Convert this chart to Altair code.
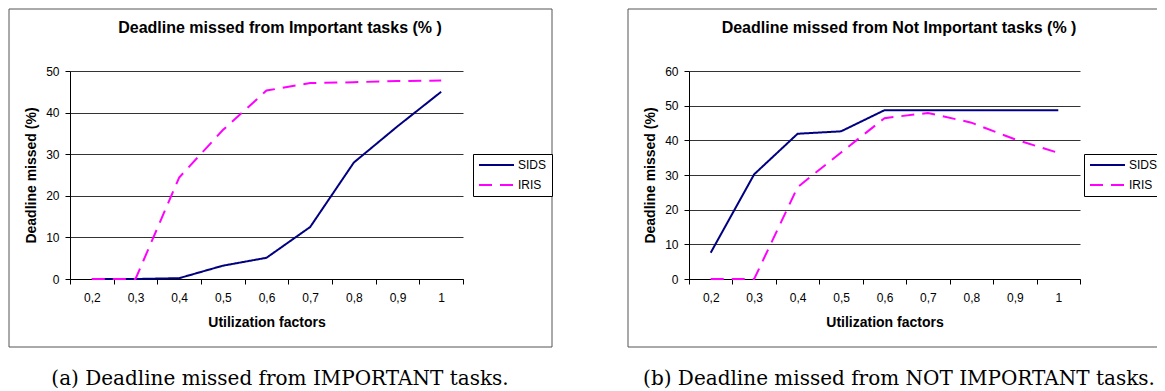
import altair as alt
import pandas as pd

# ---- data ----
factors = ["0,2", "0,3", "0,4", "0,5", "0,6", "0,7", "0,8", "0,9", "1"]
series_names = ["SIDS", "IRIS"]
imp_sids = [0, 0, 0.2, 3.2, 5.1, 12.5, 28.0, 36.7, 45.0]
imp_iris = [0, 0, 24.4, 35.8, 45.3, 47.1, 47.3, 47.6, 47.7]
notimp_sids = [7.6, 30.2, 41.9, 42.6, 48.7, 48.7, 48.7, 48.7, 48.7]
notimp_iris = [0, 0, 26.5, 36.5, 46.4, 47.9, 45.1, 40.3, 36.4]
chart_titles = ["Deadline missed from Important tasks (% )",
                "Deadline missed from Not Important tasks (% )"]
captions = ["(a) Deadline missed from IMPORTANT tasks.",
            "(b) Deadline missed from NOT IMPORTANT tasks."]
y_max = [50, 60]
x_title = "Utilization factors"
y_title = "Deadline missed (%)"

SANS = "Liberation Sans"
SERIF = "DejaVu Serif"
BOX = "#555555"


def panel(title, caption, sids, iris, ymax, width, closed, legend_x):
    df = pd.DataFrame({
        "u": factors * 2,
        "v": sids + iris,
        "s": ["SIDS"] * len(factors) + ["IRIS"] * len(factors),
    })
    legend = alt.Legend(title=None, orient="none", legendX=legend_x, legendY=83,
                        strokeColor="black", fillColor="white", padding=5,
                        labelFont=SANS, labelFontSize=12, labelColor="black",
                        symbolType="stroke", symbolSize=1225, symbolStrokeWidth=2,
                        clipHeight=12, rowPadding=8, labelOffset=3)
    lines = alt.Chart(df).mark_line(strokeWidth=2).encode(
        x=alt.X("u:O", sort=factors, bandPosition=0.5,
                scale=alt.Scale(type="band", paddingInner=0, paddingOuter=0),
                axis=alt.Axis(title=x_title, labelAngle=0, tickBand="extent",
                              tickSize=5, labelPadding=8, titlePadding=12,
                              grid=False)),
        y=alt.Y("v:Q", scale=alt.Scale(domain=[0, ymax], nice=False),
                axis=alt.Axis(title=y_title, values=list(range(0, ymax + 1, 10)),
                              format="d", grid=True, tickSize=5, labelPadding=6,
                              titlePadding=7)),
        color=alt.Color("s:N", sort=series_names,
                        scale=alt.Scale(domain=series_names, range=["#000080", "#FF00FF"]),
                        legend=legend),
        strokeDash=alt.StrokeDash("s:N", sort=series_names,
                                  scale=alt.Scale(domain=series_names, range=[[1, 0], [13, 8]]),
                                  legend=legend),
    )
    one = pd.DataFrame({"k": [0]})
    layers = []
    if closed:
        layers.append(alt.Chart(one).mark_rect(fill="transparent", stroke=BOX, strokeWidth=1).encode(
            x=alt.value(-61), x2=alt.value(482), y=alt.value(-62), y2=alt.value(276)))
    else:
        right = 477
        layers.append(alt.Chart(one).mark_rule(color=BOX, strokeWidth=1).encode(
            x=alt.value(-61), x2=alt.value(right), y=alt.value(-62)))
        layers.append(alt.Chart(one).mark_rule(color=BOX, strokeWidth=1).encode(
            x=alt.value(-61), x2=alt.value(right), y=alt.value(276)))
        layers.append(alt.Chart(one).mark_rule(color=BOX, strokeWidth=1).encode(
            x=alt.value(-61), y=alt.value(-62), y2=alt.value(276)))
    layers.append(lines)
    layers.append(alt.Chart(pd.DataFrame({"t": [title]})).mark_text(
        font=SANS, fontWeight="bold", fontSize=16, align="center", baseline="middle",
        color="black").encode(text="t:N", x=alt.value(210), y=alt.value(-43)))
    layers.append(alt.Chart(pd.DataFrame({"t": [caption]})).mark_text(
        font=SERIF, fontSize=20, align="center", baseline="alphabetic",
        color="black").encode(text="t:N", x=alt.value(210), y=alt.value(314)))
    return alt.layer(*layers).properties(width=width, height=208)


p1 = panel(chart_titles[0], captions[0], imp_sids, imp_iris, y_max[0], 393, True, 403)
p2 = panel(chart_titles[1], captions[1], notimp_sids, notimp_iris, y_max[1], 391, False, 395)

chart = (
    alt.hconcat(p1, p2, spacing=226, bounds="flush")
    .resolve_scale(y="independent", color="independent", strokeDash="independent")
    .resolve_legend(color="independent", strokeDash="independent")
    .properties(padding={"left": 0, "top": 0, "right": -10, "bottom": 0}, background="white")
    .configure_view(stroke=None)
    .configure_axis(labelFont=SANS, labelFontSize=12, labelColor="black",
                    titleFont=SANS, titleFontSize=14, titleFontWeight="bold",
                    titleColor="black", domainColor="black", tickColor="black",
                    gridColor="#333333", domainWidth=1, tickWidth=1, gridWidth=1)
)

chart.save("out.html", embed_options={"renderer": "svg", "actions": False})
